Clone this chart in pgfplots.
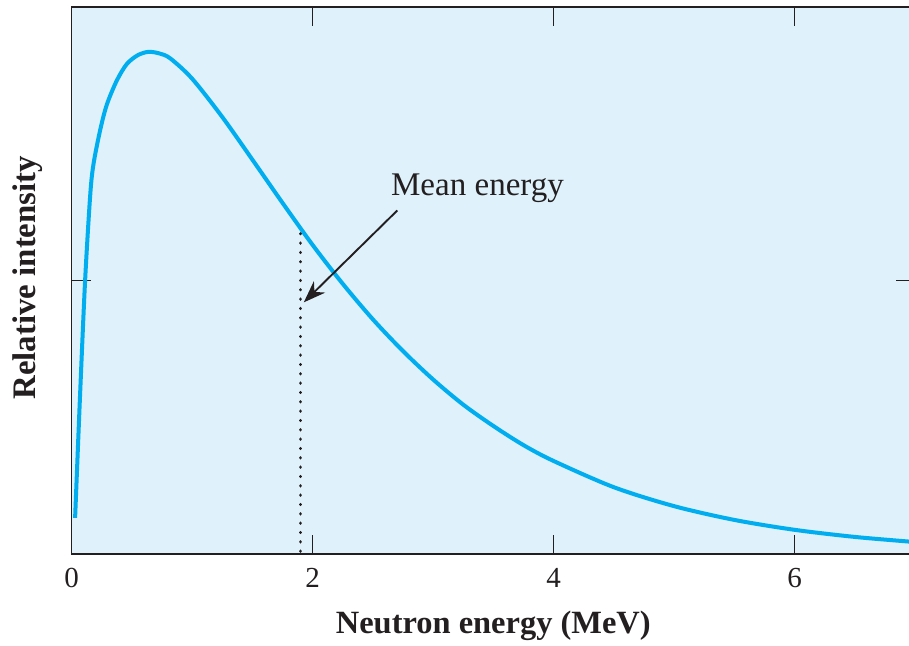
\documentclass[border=0pt]{standalone}
\usepackage{fontspec}
\setmainfont{Liberation Serif}
\usepackage{pgfplots}
\pgfplotsset{compat=1.18}
\usetikzlibrary{arrows.meta}

\definecolor{bgblue}{RGB}{223,241,251}
\definecolor{curvecyan}{RGB}{0,174,239}
\definecolor{inkgray}{RGB}{35,31,32}

\begin{document}
\begin{tikzpicture}
\begin{axis}[
    scale only axis,
    width=421pt, height=273pt,
    xmin=0, xmax=7, ymin=0, ymax=1,
    axis background/.style={fill=bgblue},
    axis line style={inkgray, line width=0.85pt},
    xtick={0,2,4,6},
    ytick={0.5},
    yticklabels={},
    tick align=inside,
    major tick length=9.5pt,
    every tick/.style={inkgray, line width=0.75pt},
    /pgf/number format/assume math mode=true,
    tick label style={font=\fontsize{14.5}{16}\selectfont, text=inkgray},
    xticklabel style={yshift=-3.5pt},
    xlabel={Neutron energy (MeV)},
    ylabel={Relative intensity},
    xlabel style={font=\fontsize{16.2}{18}\selectfont\bfseries, text=inkgray,
        at={(axis description cs:0.5,0)}, anchor=center, yshift=-36pt},
    ylabel style={font=\fontsize{16.4}{18}\selectfont\bfseries, text=inkgray,
        at={(axis description cs:0,0.505)}, anchor=center, yshift=21.75pt},
    clip=false,
]
% measured spectrum
\addplot[curvecyan, line width=2pt, smooth, tension=0.5] coordinates {
    (0.029,0.066) (0.07,0.29) (0.112,0.50) (0.154,0.655) (0.181,0.712)
    (0.237,0.775) (0.293,0.822) (0.376,0.866) (0.459,0.896) (0.55,0.912)
    (0.638,0.918) (0.73,0.915) (0.819,0.906) (1.0,0.869) (1.25,0.799)
    (1.5,0.721) (1.75,0.642) (2.0,0.565) (2.25,0.494) (2.5,0.429)
    (2.75,0.371) (3.0,0.319) (3.25,0.273) (3.5,0.234) (3.75,0.199)
    (4.0,0.170) (4.5,0.122) (5.0,0.0874) (5.5,0.0622) (6.0,0.0441)
    (6.5,0.0311) (7.0,0.0217)
};
% mean energy marker
\addplot[inkgray, line width=1.7pt, dash pattern=on 0.01pt off 4.65pt, line cap=round] coordinates {
    (1.9,0.005) (1.9,0.588)
};
\draw[inkgray, line width=0.95pt, -{Stealth[length=11pt,width=8pt]}]
    (axis cs:2.703,0.628) -- (axis cs:1.927,0.460);
\node[anchor=base west, inner sep=0pt, text=inkgray, font=\fontsize{16.5}{18}\selectfont]
    at (axis cs:2.648,0.656) {Mean energy};
\coordinate (ll) at (rel axis cs:0,0);
\coordinate (ur) at (axis cs:6.95,1);
\end{axis}
\pgfresetboundingbox
\path[use as bounding box] ([xshift=-35.75pt,yshift=-45.5pt]ll) rectangle ([yshift=3.5pt]ur);
\end{tikzpicture}
\end{document}
